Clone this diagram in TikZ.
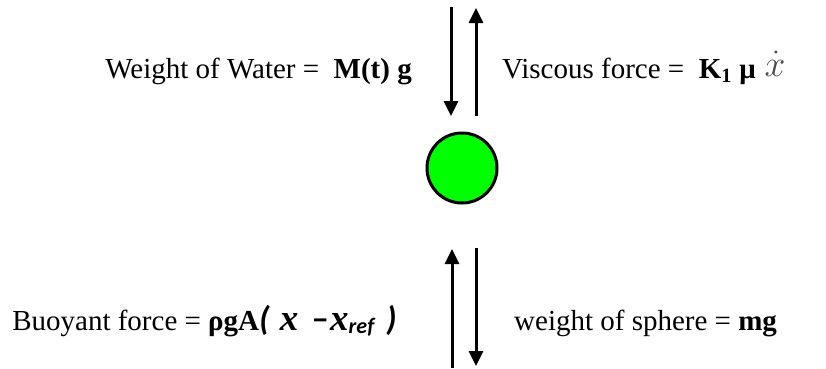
\documentclass[tikz,border=0pt]{standalone}
\usepackage{fontspec}
\setmainfont{Liberation Serif}
\newfontfamily\calib{Carlito}
\usetikzlibrary{arrows.meta}
\definecolor{ballgreen}{RGB}{0,255,0}
\tikzset{
  force/.style={line width=3pt,-{Triangle[length=15pt,width=14pt]}},
  lbl/.style={inner sep=0pt,font=\fontsize{29}{34}\selectfont},
  ball/.style={circle,draw=black,line width=3pt,fill=ballgreen,minimum size=70pt,inner sep=0pt}
}
\begin{document}
\begin{tikzpicture}[x=1pt,y=1pt]
\useasboundingbox (0,0) rectangle (826,368);
% ball
\node[ball] (ball) at (462,200) {};
% top arrows
\coordinate (t1s) at (451,361);
\coordinate (t1e) at (451,252);
\coordinate (t2s) at (476,252);
\coordinate (t2e) at (476,360);
\draw[force] (t1s) -- (t1e);
\draw[force] (t2s) -- (t2e);
% bottom arrows
\coordinate (b1s) at (452,0);
\coordinate (b1e) at (452,119);
\coordinate (b2s) at (476,120);
\coordinate (b2e) at (476,2);
\draw[force] (b1s) -- (b1e);
\draw[force] (b2s) -- (b2e);
% labels
\node[lbl,anchor=base east] (ww) at (412,290) {Weight of Water =\ \ \textbf{M(t) g}};
\node[lbl,anchor=base west] (vf) at (502,290) {Viscous force =\ \ \textbf{K\textsubscript{1} μ}\hspace{9pt}\raisebox{2pt}{\color[gray]{0.3}\scalebox{1.5}{$\dot{x}$}}};
\node[lbl,anchor=base east] (bf) at (397,38) {Buoyant force = \textbf{ρgA}{\calib\bfseries\itshape\fontsize{34}{38}\selectfont(}\hspace{10pt}{\fontsize{37}{40}\selectfont\textbf{\textit{x}}}\hspace{14pt}{\calib\bfseries\fontsize{32}{36}\selectfont −}\hspace{2pt}{\fontsize{37}{40}\selectfont\textbf{\textit{x}}}\raisebox{-3pt}{\calib\bfseries\itshape\fontsize{22}{26}\selectfont ref}\hspace{12pt}{\calib\bfseries\itshape\fontsize{34}{38}\selectfont)}};
\node[lbl,anchor=base west] (ws) at (514,38) {weight of sphere = \textbf{mg}};
\end{tikzpicture}
\end{document}
